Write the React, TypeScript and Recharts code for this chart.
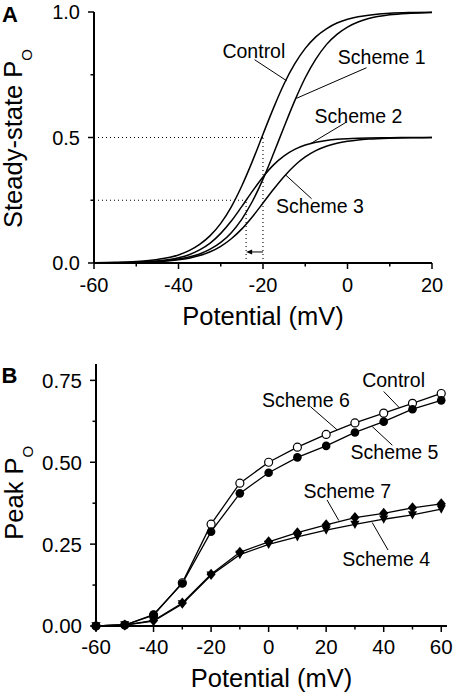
import React from 'react';
import { LineChart, Line, XAxis, YAxis, ReferenceLine, ReferenceDot, Label } from 'recharts';

const FONT = '"Liberation Sans", Arial, Helvetica, sans-serif';

// ---------- Panel A: steady-state open probability ----------
const potentialA = [-60, -55, -50, -45, -40, -37.5, -35, -32.5, -30, -27.5, -25, -22.5, -20, -17.5, -15, -12.5, -10, -7.5, -5, -2.5, 0, 2.5, 5, 10, 15, 20];
const controlA = [0.001, 0.0025, 0.0059, 0.014, 0.032, 0.049, 0.074, 0.109, 0.158, 0.224, 0.308, 0.406, 0.513, 0.618, 0.714, 0.793, 0.855, 0.901, 0.933, 0.956, 0.971, 0.981, 0.987, 0.995, 0.998, 0.999];
const scheme1A = [0.0005, 0.0012, 0.0028, 0.0067, 0.0157, 0.024, 0.036, 0.055, 0.082, 0.121, 0.175, 0.246, 0.334, 0.436, 0.543, 0.646, 0.738, 0.812, 0.87, 0.911, 0.94, 0.96, 0.974, 0.989, 0.995, 0.998];
const scheme2A = [0.0004, 0.0011, 0.003, 0.008, 0.021, 0.033, 0.052, 0.079, 0.118, 0.167, 0.2255, 0.2865, 0.343, 0.391, 0.427, 0.4525, 0.47, 0.481, 0.488, 0.4927, 0.4955, 0.4972, 0.4983, 0.4994, 0.4998, 0.4999];
const scheme3A = [0.0004, 0.0009, 0.0022, 0.0052, 0.0125, 0.0193, 0.0296, 0.0447, 0.0665, 0.0967, 0.136, 0.1846, 0.239, 0.294, 0.345, 0.3886, 0.4225, 0.4475, 0.465, 0.477, 0.485, 0.4904, 0.4938, 0.4974, 0.499, 0.4996];
const xTicksA = [-60, -50, -40, -30, -20, -10, 0, 10, 20];
const xLabelsA = ['-60', '', '-40', '', '-20', '', '0', '', '20'];
const yTicksA = [0, 0.25, 0.5, 0.75, 1];
const yLabelsA = ['0.0', '', '0.5', '', '1.0'];

// ---------- Panel B: peak open probability ----------
const potentialB = [-60, -50, -40, -30, -20, -10, 0, 10, 20, 30, 40, 50, 60];
const controlB = [0, 0.003, 0.033, 0.132, 0.311, 0.436, 0.5, 0.546, 0.585, 0.62, 0.65, 0.68, 0.71];
const scheme5B = [0, 0.003, 0.035, 0.13, 0.288, 0.405, 0.468, 0.515, 0.55, 0.591, 0.624, 0.662, 0.689];
const scheme7B = [0, 0.003, 0.017, 0.07, 0.158, 0.225, 0.257, 0.285, 0.309, 0.331, 0.344, 0.361, 0.373];
const scheme4B = [0, 0.003, 0.015, 0.067, 0.155, 0.218, 0.249, 0.272, 0.293, 0.31, 0.326, 0.339, 0.357];
const xTicksB = [-60, -50, -40, -30, -20, -10, 0, 10, 20, 30, 40, 50, 60];
const xLabelsB = ['-60', '', '-40', '', '-20', '', '0', '', '20', '', '40', '', '60'];
const yTicksB = [0, 0.125, 0.25, 0.375, 0.5, 0.625, 0.75];
const yLabelsB = ['0.00', '', '0.25', '', '0.50', '', '0.75'];

const dataA = potentialA.map((v, i) => ({ v, control: controlA[i], s1: scheme1A[i], s2: scheme2A[i], s3: scheme3A[i] }));
const dataB = potentialB.map((v, i) => ({ v, control: controlB[i], s5: scheme5B[i], s7: scheme7B[i], s4: scheme4B[i] }));

const TICK_SIZE = 6;
const TICK_MARGIN = 8;

const makeYTick = (ticks: number[], labels: string[], fontSize: number) => (props: any) => {
  const { x, y, payload } = props;
  const i = ticks.indexOf(payload.value);
  const label = i >= 0 ? labels[i] : '';
  const axisX = x + TICK_SIZE + TICK_MARGIN;
  const len = label ? 6 : 3.5;
  return (
    <g>
      <line x1={axisX - len} x2={axisX} y1={y} y2={y} stroke="#000" strokeWidth={1.5} />
      {label ? (
        <text x={x} y={y + fontSize * 0.36} textAnchor="end" fontSize={fontSize} fontFamily={FONT} fill="#000">
          {label}
        </text>
      ) : null}
    </g>
  );
};

const makeXTick = (ticks: number[], labels: string[], fontSize: number, baseline: number) => (props: any) => {
  const { x, y, payload } = props;
  const i = ticks.indexOf(payload.value);
  const label = i >= 0 ? labels[i] : '';
  const axisY = y - TICK_SIZE - TICK_MARGIN;
  const len = label ? 6 : 3.5;
  return (
    <g>
      <line x1={x} x2={x} y1={axisY} y2={axisY + len} stroke="#000" strokeWidth={1.5} />
      {label ? (
        <text x={x} y={axisY + baseline} textAnchor="middle" fontSize={fontSize} fontFamily={FONT} fill="#000">
          {label}
        </text>
      ) : null}
    </g>
  );
};

const annText = (text: string) => (p: any) => (
  <text x={p.cx} y={p.cy} fontSize={19.5} fontFamily={FONT} fill="#000">
    {text}
  </text>
);

const arrowShape = (p: any) => {
  const { x1, y1, x2, y2 } = p;
  return (
    <g>
      <line x1={x1} y1={y1} x2={x2 + 4} y2={y2} stroke="#000" strokeWidth={1} />
      <polygon points={`${x2},${y2} ${x2 + 6},${y2 - 2.5} ${x2 + 6},${y2 + 2.5}`} fill="#000" />
    </g>
  );
};

const openCircle = (p: any) => (
  <circle key={`oc-${p.index}`} cx={p.cx} cy={p.cy} r={4} fill="#fff" stroke="#000" strokeWidth={1.2} />
);
const filledCircle = (p: any) => <circle key={`fc-${p.index}`} cx={p.cx} cy={p.cy} r={4.3} fill="#000" />;
const diamond = (p: any) => (
  <path key={`dm-${p.index}`} d={`M${p.cx},${p.cy - 5.5} L${p.cx + 4.6},${p.cy} L${p.cx},${p.cy + 5.5} L${p.cx - 4.6},${p.cy} Z`} fill="#000" />
);
const triDown = (p: any) => (
  <path key={`td-${p.index}`} d={`M${p.cx - 4.6},${p.cy - 3.8} L${p.cx + 4.6},${p.cy - 3.8} L${p.cx},${p.cy + 4.6} Z`} fill="#000" />
);

const yTitle = (main: string, baseX: number, dyCenter: number) => (p: any) => {
  const vb = p.viewBox || {};
  const cy = vb.y + vb.height / 2 + dyCenter;
  return (
    <text transform={`translate(${baseX},${cy}) rotate(-90)`} textAnchor="middle" fontSize={25.5} fontFamily={FONT} fill="#000">
      {main}
      <tspan fontSize={15} dy={10}>O</tspan>
    </text>
  );
};

const xTitle = (text: string, dyBase: number) => (p: any) => {
  const vb = p.viewBox || {};
  return (
    <text x={vb.x + vb.width / 2} y={vb.y + dyBase} textAnchor="middle" fontSize={25.5} fontFamily={FONT} fill="#000">
      {text}
    </text>
  );
};

const dotted = { stroke: '#000', strokeWidth: 1.1, strokeDasharray: '1 3' };
const leader = { stroke: '#000', strokeWidth: 1 };

export default function App() {
  return (
    <div style={{ position: 'absolute', left: 0, top: 0, width: 455, height: 700, background: '#fff' }}>
      <div style={{ position: 'absolute', left: 0, top: 0 }}>
        <LineChart width={455} height={350} data={dataA} margin={{ top: 12, right: 23, left: 0, bottom: 27 }}>
          <XAxis
            dataKey="v"
            type="number"
            domain={[-60, 20]}
            ticks={xTicksA}
            interval={0}
            tickSize={TICK_SIZE}
            tickMargin={TICK_MARGIN}
            tickLine={false}
            axisLine={{ stroke: '#000', strokeWidth: 2 }}
            height={60}
            tick={makeXTick(xTicksA, xLabelsA, 20, 29)}
          >
            <Label content={xTitle('Potential (mV)', 62)} />
          </XAxis>
          <YAxis
            type="number"
            domain={[0, 1]}
            ticks={yTicksA}
            interval={0}
            width={94}
            tickSize={TICK_SIZE}
            tickMargin={TICK_MARGIN}
            tickLine={false}
            axisLine={{ stroke: '#000', strokeWidth: 2 }}
            tick={makeYTick(yTicksA, yLabelsA, 20)}
          >
            <Label content={yTitle('Steady-state P', 21.5, 1)} />
          </YAxis>
          <ReferenceLine segment={[{ x: -60, y: 0.5 }, { x: -20, y: 0.5 }]} {...dotted} />
          <ReferenceLine segment={[{ x: -20, y: 0 }, { x: -20, y: 0.5 }]} {...dotted} />
          <ReferenceLine segment={[{ x: -60, y: 0.25 }, { x: -24, y: 0.25 }]} {...dotted} />
          <ReferenceLine segment={[{ x: -24, y: 0 }, { x: -24, y: 0.25 }]} {...dotted} />
          <ReferenceLine segment={[{ x: -20, y: 0.044 }, { x: -24, y: 0.044 }]} shape={arrowShape} />
          <Line type="monotone" dataKey="control" stroke="#000" strokeWidth={1.5} dot={false} activeDot={false} isAnimationActive={false} />
          <Line type="monotone" dataKey="s1" stroke="#000" strokeWidth={1.5} dot={false} activeDot={false} isAnimationActive={false} />
          <Line type="monotone" dataKey="s2" stroke="#000" strokeWidth={1.5} dot={false} activeDot={false} isAnimationActive={false} />
          <Line type="monotone" dataKey="s3" stroke="#000" strokeWidth={1.5} dot={false} activeDot={false} isAnimationActive={false} />
          <ReferenceLine segment={[{ x: -22.0, y: 0.81 }, { x: -14.4, y: 0.726 }]} {...leader} />
          <ReferenceLine segment={[{ x: 4.5, y: 0.778 }, { x: -12.1, y: 0.656 }]} {...leader} />
          <ReferenceLine segment={[{ x: -0.3, y: 0.561 }, { x: -8.7, y: 0.476 }]} {...leader} />
          <ReferenceLine segment={[{ x: -14.6, y: 0.35 }, { x: -8.5, y: 0.256 }]} {...leader} />
          <ReferenceDot x={-29.6} y={0.815} r={0} shape={annText('Control')} />
          <ReferenceDot x={-2.3} y={0.791} r={0} shape={annText('Scheme 1')} />
          <ReferenceDot x={-7.8} y={0.559} r={0} shape={annText('Scheme 2')} />
          <ReferenceDot x={-16.9} y={0.2} r={0} shape={annText('Scheme 3')} />
        </LineChart>
      </div>
      <div style={{ position: 'absolute', left: 0, top: 350 }}>
        <LineChart width={455} height={350} data={dataB} margin={{ top: 14, right: 8, left: 0, bottom: 24 }}>
          <XAxis
            dataKey="v"
            type="number"
            domain={[-60, 62]}
            ticks={xTicksB}
            interval={0}
            tickSize={TICK_SIZE}
            tickMargin={TICK_MARGIN}
            tickLine={false}
            axisLine={{ stroke: '#000', strokeWidth: 2 }}
            height={50}
            tick={makeXTick(xTicksB, xLabelsB, 20.5, 27.5)}
          >
            <Label content={xTitle('Potential (mV)', 60.7)} />
          </XAxis>
          <YAxis
            type="number"
            domain={[0, 0.8]}
            ticks={yTicksB}
            interval={0}
            width={96}
            tickSize={TICK_SIZE}
            tickMargin={TICK_MARGIN}
            tickLine={false}
            axisLine={{ stroke: '#000', strokeWidth: 2 }}
            tick={makeYTick(yTicksB, yLabelsB, 20.5)}
          >
            <Label content={yTitle('Peak P', 23, -2.3)} />
          </YAxis>
          <Line type="linear" dataKey="control" stroke="#000" strokeWidth={1.3} dot={openCircle} activeDot={false} isAnimationActive={false} />
          <Line type="linear" dataKey="s5" stroke="#000" strokeWidth={1.3} dot={filledCircle} activeDot={false} isAnimationActive={false} />
          <Line type="linear" dataKey="s7" stroke="#000" strokeWidth={1.3} dot={diamond} activeDot={false} isAnimationActive={false} />
          <Line type="linear" dataKey="s4" stroke="#000" strokeWidth={1.3} dot={triDown} activeDot={false} isAnimationActive={false} />
          <ReferenceLine segment={[{ x: 40.0, y: 0.716 }, { x: 45.5, y: 0.666 }]} {...leader} />
          <ReferenceLine segment={[{ x: 14.5, y: 0.67 }, { x: 23.8, y: 0.599 }]} {...leader} />
          <ReferenceLine segment={[{ x: 36, y: 0.609 }, { x: 43, y: 0.552 }]} {...leader} />
          <ReferenceLine segment={[{ x: 20.3, y: 0.385 }, { x: 24.4, y: 0.322 }]} {...leader} />
          <ReferenceLine segment={[{ x: 36, y: 0.316 }, { x: 41.5, y: 0.232 }]} {...leader} />
          <ReferenceDot x={32.5} y={0.731} r={0} shape={annText('Control')} />
          <ReferenceDot x={-2.3} y={0.669} r={0} shape={annText('Scheme 6')} />
          <ReferenceDot x={28.5} y={0.51} r={0} shape={annText('Scheme 5')} />
          <ReferenceDot x={12.1} y={0.391} r={0} shape={annText('Scheme 7')} />
          <ReferenceDot x={25.6} y={0.183} r={0} shape={annText('Scheme 4')} />
        </LineChart>
      </div>
      <svg width={455} height={700} style={{ position: 'absolute', left: 0, top: 0, pointerEvents: 'none' }}>
        <text x={2} y={22} fontSize={22} fontWeight="bold" fontFamily={FONT} fill="#000">A</text>
        <text x={1.5} y={383} fontSize={22} fontWeight="bold" fontFamily={FONT} fill="#000">B</text>
      </svg>
    </div>
  );
}
